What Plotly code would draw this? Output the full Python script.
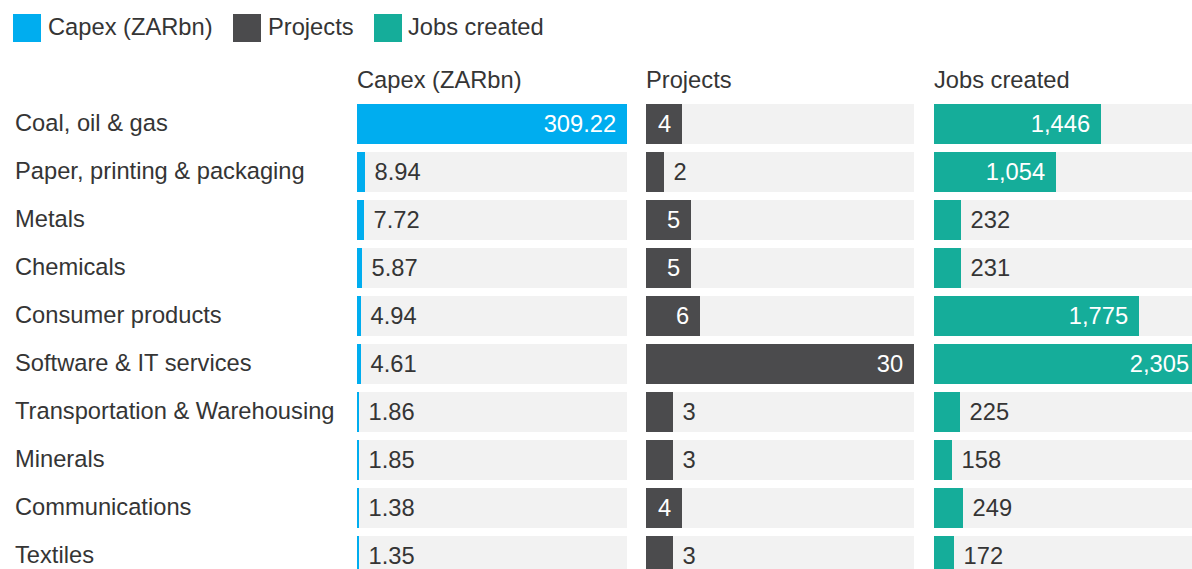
import plotly.graph_objects as go

# ---- data -------------------------------------------------------------
sectors = [
    "Coal, oil & gas",
    "Paper, printing & packaging",
    "Metals",
    "Chemicals",
    "Consumer products",
    "Software & IT services",
    "Transportation & Warehousing",
    "Minerals",
    "Communications",
    "Textiles",
]
capex_zarbn = [309.22, 8.94, 7.72, 5.87, 4.94, 4.61, 1.86, 1.85, 1.38, 1.35]
projects = [4, 2, 5, 5, 6, 30, 3, 3, 4, 3]
jobs_created = [1446, 1054, 232, 231, 1775, 2305, 225, 158, 249, 172]

series_names = ["Capex (ZARbn)", "Projects", "Jobs created"]

# ---- styling ----------------------------------------------------------
W, H = 1192, 569
M_TOP = 100
BLUE, DARK, TEAL = "#00ADEF", "#4B4B4D", "#15AD9A"
TRACK = "#F2F2F2"
TEXT = "#353535"
FONT = "Liberation Sans, Arial, Helvetica, sans-serif"
FS = 23.7
PAD_OUT = "\u00a0"   # gap between bar end and a label sitting outside
PAD_IN = "\u2004"    # gap between a label inside the bar and the bar end

PLOT_H = H - M_TOP


def px_x(px):
    return px / W


def px_y(py):
    return (H - py) / PLOT_H


panels = [
    dict(name=series_names[0], vals=capex_zarbn, fmt=lambda v: f"{v:.2f}",
         color=BLUE, axis="x", dom=(357, 627), rmax=max(capex_zarbn)),
    dict(name=series_names[1], vals=projects, fmt=lambda v: f"{v}",
         color=DARK, axis="x2", dom=(646, 914), rmax=max(projects)),
    # the jobs panel runs off the right edge, so its axis stops short of the max
    dict(name=series_names[2], vals=jobs_created, fmt=lambda v: f"{v:,}",
         color=TEAL, axis="x3", dom=(934, W), rmax=2234),
]

fig = go.Figure()

for p in panels:
    vals = p["vals"]
    vmax = max(vals)
    # grey track behind each bar, as long as the panel's largest value
    fig.add_trace(go.Bar(
        x=[vmax] * len(vals), y=sectors, orientation="h",
        xaxis=p["axis"], yaxis="y", width=0.83,
        marker=dict(color=TRACK, line=dict(width=0)),
        hoverinfo="skip", showlegend=False,
    ))
    inside = [v >= 0.12 * vmax for v in vals]
    labels = [p["fmt"](v) + PAD_IN if ins else PAD_OUT + p["fmt"](v)
              for v, ins in zip(vals, inside)]
    fig.add_trace(go.Bar(
        x=vals, y=sectors, orientation="h", name=p["name"],
        xaxis=p["axis"], yaxis="y", width=0.83,
        marker=dict(color=p["color"], line=dict(width=0)),
        text=labels,
        textposition=["inside" if ins else "outside" for ins in inside],
        insidetextanchor="end", textangle=0, constraintext="none",
        insidetextfont=dict(color="white", size=FS, family=FONT),
        outsidetextfont=dict(color=TEXT, size=FS, family=FONT),
        showlegend=False,
    ))

layout_axes = {}
for i, p in enumerate(panels):
    key = "xaxis" if i == 0 else f"xaxis{i + 1}"
    layout_axes[key] = dict(
        domain=[px_x(p["dom"][0]), px_x(p["dom"][1])],
        range=[0, p["rmax"]], visible=False, fixedrange=True,
        anchor="y",
    )

annotations = []
# panel headers
for i, p in enumerate(panels):
    ref = "x" if i == 0 else f"x{i + 1}"
    annotations.append(dict(
        text=p["name"], xref=f"{ref} domain", x=0, xanchor="left", xshift=-2,
        yref="paper", y=px_y(80), yanchor="middle", showarrow=False,
        font=dict(size=FS, color=TEXT, family=FONT),
    ))
# row labels
for s in sectors:
    annotations.append(dict(
        text=s, xref="paper", x=px_x(13), xanchor="left",
        yref="y", y=s, yanchor="middle", yshift=1, showarrow=False,
        font=dict(size=FS, color=TEXT, family=FONT),
    ))

# legend: coloured squares with labels
shapes = []
legend_items = [(13, 46), (233, 266), (374, 406)]
for (sq_x, tx_x), p in zip(legend_items, panels):
    shapes.append(dict(
        type="rect", xref="paper", yref="paper",
        x0=px_x(sq_x), x1=px_x(sq_x + 28), y0=px_y(42), y1=px_y(14),
        fillcolor=p["color"], line=dict(width=0),
    ))
    annotations.append(dict(
        text=p["name"], xref="paper", x=px_x(tx_x), xanchor="left",
        yref="paper", y=px_y(27), yanchor="middle", showarrow=False,
        font=dict(size=FS, color=TEXT, family=FONT),
    ))

fig.update_layout(
    width=W, height=H, autosize=False,
    margin=dict(l=0, r=0, t=M_TOP, b=0, pad=0),
    paper_bgcolor="white", plot_bgcolor="white",
    barmode="overlay", bargap=0,
    font=dict(family=FONT, size=FS, color=TEXT),
    yaxis=dict(type="category", categoryorder="array", categoryarray=sectors,
               range=[9.27, -0.5], autorange=False, visible=False,
               fixedrange=True),
    annotations=annotations, shapes=shapes,
    showlegend=False,
    **layout_axes,
)

fig.write_html("out.html", config={"displayModeBar": False})
